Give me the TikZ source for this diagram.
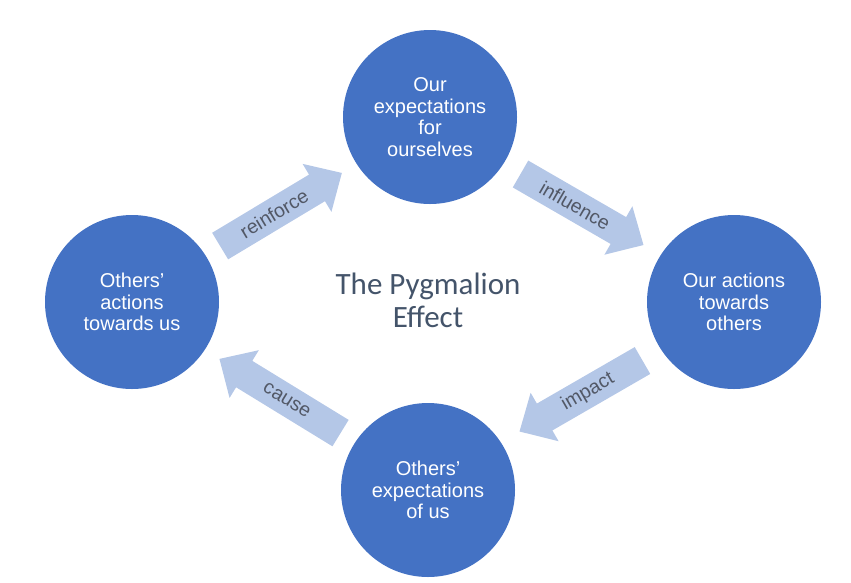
\documentclass[tikz,border=0pt]{standalone}
\usepackage{fontspec}
\setmainfont{Liberation Sans}
\newfontfamily\titlefont{Carlito}
\usetikzlibrary{calc}
\definecolor{circleblue}{HTML}{4472C4}
\definecolor{arrowblue}{HTML}{B4C7E7}
\definecolor{titlegray}{HTML}{44546A}
\definecolor{labelgray}{HTML}{525866}

\tikzset{
  bubble/.style={circle, fill=circleblue, text=white, minimum size=174pt, inner sep=0pt, align=center, font=\fontsize{20}{21.7}\selectfont},
  arrowlabel/.style={text=labelgray, inner sep=0pt, font=\fontsize{19.5}{20}\selectfont}
}

\begin{document}
\begin{tikzpicture}[x=1pt, y=-1pt]
\useasboundingbox (0,0) rectangle (851,582);

% circles
\node[bubble] (ownexp) at (430,117) {Our\\expectations\\for\\ourselves};
\node[bubble] (ownact) at (734,302) {Our actions\\towards\\others};
\node[bubble] (othexp) at (428,490) {Others'\\expectations\\of us};
\node[bubble] (othact) at (132,302) {Others'\\actions\\towards us};

% arrows
\foreach \from/\to/\ang/\txtang/\lbl in {othact/ownexp/31/31/reinforce, ownexp/ownact/-30/-30/influence, ownact/othexp/210/30/impact, othexp/othact/148.5/-31.5/cause}{
\begin{scope}[shift={($(\from)!0.5!(\to)$)}, rotate=\ang]
\path[fill=arrowblue] (-71,-15.5) -- (42,-15.5) -- (42,-28) -- (71,0) -- (42,28) -- (42,15.5) -- (-71,15.5) -- cycle;
\node[arrowlabel, rotate=\txtang] (\lbl) at (-8,0) {\lbl};
\end{scope}
}

% title
\node[text=titlegray, align=center, font=\titlefont\fontsize{31}{33}\selectfont] (title) at (428,300) {The Pygmalion\\Effect};
\end{tikzpicture}
\end{document}
